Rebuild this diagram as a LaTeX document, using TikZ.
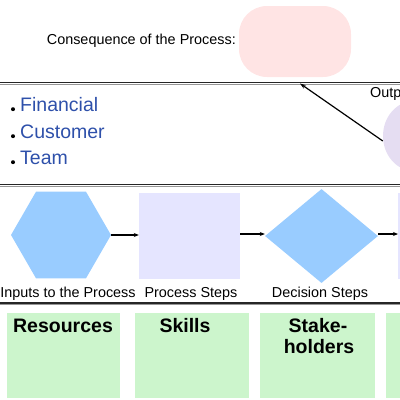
\documentclass[tikz,border=0pt]{standalone}
\usepackage{fontspec}
\setmainfont{Liberation Sans}
\usetikzlibrary{shapes.geometric,arrows.meta}
\definecolor{pinkfill}{RGB}{255,228,228}
\definecolor{lavfill}{RGB}{229,221,242}
\definecolor{sqfill}{RGB}{229,229,255}
\definecolor{bluefill}{RGB}{153,204,255}
\definecolor{greenfill}{RGB}{204,245,204}
\definecolor{bullettext}{RGB}{46,80,170}
\definecolor{rulegray}{RGB}{150,150,150}
\tikzset{
  lbl/.style={font=\fontsize{14.4}{16}\selectfont, inner sep=0pt},
  bul/.style={font=\fontsize{19.5}{22}\selectfont, text=bullettext, inner sep=0pt, anchor=base west},
  greenbox/.style={fill=greenfill, draw=none},
  glbl/.style={font=\bfseries\fontsize{19.5}{21}\selectfont, inner sep=0pt, align=center, anchor=north},
  conn/.style={line width=1.2pt, -{Stealth[length=5pt,width=4pt]}},
  rulemain/.style={line width=1.6pt, draw=black!85},
  rulesub/.style={line width=1.2pt, draw=rulegray},
}
\begin{document}
\begin{tikzpicture}[x=1pt,y=-1pt]
\useasboundingbox (0,0) rectangle (400,400);
\clip (0,0) rectangle (400,400);
% consequence
\node[lbl, anchor=east] (cons) at (236,41) {Consequence of the Process:};
\node[fill=pinkfill, rounded corners=28pt, minimum width=112pt, minimum height=71pt, inner sep=0pt] (pink) at (295,41.5) {};
% rules
\draw[rulesub] (0,84.2) -- (400,84.2);
\draw[rulemain] (0,82.5) -- (400,82.5);
\draw[rulesub] (0,186.2) -- (400,186.2);
\draw[rulemain] (0,184.5) -- (400,184.5);
\draw[rulesub] (0,304.7) -- (400,304.7);
\draw[rulemain] (0,303) -- (400,303);
% outputs
\node[lbl, anchor=base west] (outp) at (370,97) {Outputs};
\node[ellipse, fill=lavfill, minimum width=62pt, minimum height=70pt, inner sep=0pt] (outell) at (414,136) {};
\coordinate (tip) at (300,83.5);
\draw[line width=1.2pt, -{Stealth[length=6pt,width=4pt]}] (outell.west) ++(0,5) -- (tip);
% bullets
\node[bul] (b1) at (20,111) {Financial};
\node[bul] (b2) at (20,138) {Customer};
\node[bul] (b3) at (20,164) {Team};
\foreach \y in {109.2,136.2,162.2}{\fill (13,\y) circle (2pt);}
% process row
\node[regular polygon, regular polygon sides=6, minimum size=100pt, inner sep=0pt, fill=bluefill] (hex) at (61,235) {};
\node[rectangle, fill=sqfill, minimum width=101pt, minimum height=86pt, inner sep=0pt] (sq) at (189.5,236) {};
\node[diamond, fill=bluefill, minimum width=113pt, minimum height=94pt, inner sep=0pt] (dia) at (321.5,236) {};
\node[rectangle, fill=sqfill, minimum width=60pt, minimum height=86pt, inner sep=0pt, anchor=west] (next) at (398,236) {};
\draw[conn] (hex.east) -- (hex.east -| sq.west);
\draw[conn] (sq.east |- 0,234) -- (dia.west |- 0,234);
\draw[conn] (dia.east |- 0,234) -- (next.west |- 0,234);
\node[lbl, anchor=base] (l1) at (68,297) {Inputs to the Process};
\node[lbl, anchor=base] (l2) at (191,297) {Process Steps};
\node[lbl, anchor=base] (l3) at (320,297) {Decision Steps};
% green boxes
\fill[greenfill] (7,313) rectangle (120,398);
\fill[greenfill] (135,313) rectangle (249,398);
\fill[greenfill] (260,313) rectangle (375,398);
\fill[greenfill] (386,313) rectangle (460,398);
\node[glbl, anchor=base] (g1) at (63,332) {Resources};
\node[glbl, anchor=base] (g2) at (185,332) {Skills};
\node[glbl, anchor=base] (g3) at (318,332) {Stake-};
\node[glbl, anchor=base] (g3b) at (319,353) {holders};
\end{tikzpicture}
\end{document}
